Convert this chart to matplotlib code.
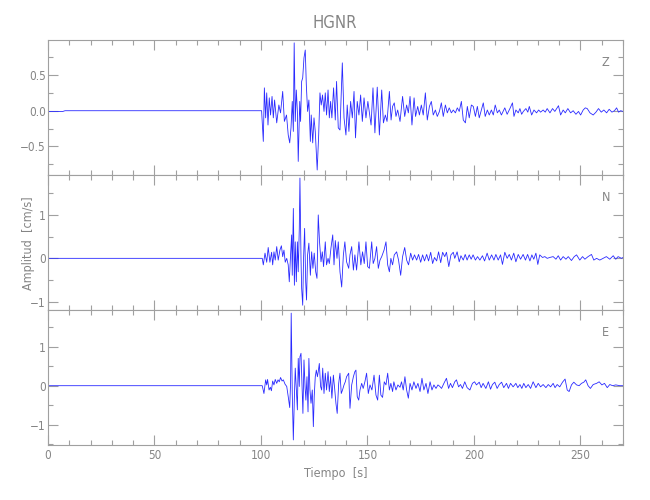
import matplotlib
matplotlib.use('Agg')
import matplotlib.pyplot as plt
from matplotlib import font_manager
from matplotlib.ticker import MultipleLocator

# Narrow, thin lettering closest to the plotting-package style
names = {f.name for f in font_manager.fontManager.ttflist}
narrow = [n for n in ['Liberation Sans Narrow', 'DejaVu Sans Condensed'] if n in names]
plt.rcParams['font.family'] = narrow + ['DejaVu Sans']
plt.rcParams['font.stretch'] = 'condensed'

# Turning points of the three components: (time s, cm/s)
z_trace = [
    (0, -0.01), (7, -0.01), (8, 0.0), (100.3, 0.0),
    (101.1, -0.43), (101.6, 0.32), (102.2, -0.10), (102.7, 0.25), (103.3, -0.20),
    (103.9, 0.18), (104.5, -0.06), (105.2, 0.20), (105.8, -0.10), (106.4, 0.15),
    (107.4, -0.17), (108.4, 0.08), (109.2, -0.03), (110.2, 0.27), (111.0, -0.15),
    (112.0, -0.06), (112.8, -0.34), (113.5, -0.45), (114.1, -0.24), (114.7, 0.13),
    (115.2, -0.29), (115.6, 0.95), (116.1, -0.15), (116.6, 0.29), (117.1, -0.01),
    (117.5, -0.71), (118.2, 0.13), (118.6, -0.15), (119.1, 0.41), (119.6, 0.46),
    (120.2, 0.74), (120.8, 0.85), (121.3, 0.36), (121.9, -0.01), (122.5, 0.15),
    (123.2, -0.43), (123.6, -0.06), (124.3, -0.45), (124.9, -0.10), (125.5, -0.29),
    (126.4, -0.83), (127.1, -0.34), (127.7, 0.25), (128.3, 0.08), (128.9, 0.22),
    (129.6, -0.01), (130.2, 0.25), (130.8, -0.06), (131.5, 0.29), (132.1, -0.10),
    (132.7, 0.13), (133.3, -0.10), (134.1, 0.32), (134.9, -0.13), (135.5, 0.41),
    (136.3, -0.24), (137.1, -0.27), (138.2, 0.67), (139.0, -0.10), (139.9, -0.34),
    (140.5, 0.08), (141.3, -0.29), (142.1, 0.13), (142.9, -0.10), (143.7, 0.27),
    (144.4, -0.38), (145.2, 0.13), (146.0, -0.06), (146.8, 0.22), (147.6, -0.15),
    (148.4, 0.18), (149.3, -0.10), (150.2, 0.13), (151.7, -0.20), (152.6, 0.32),
    (153.5, -0.31), (154.6, 0.33), (155.6, -0.34), (156.7, 0.29), (157.5, -0.17),
    (158.4, -0.06), (159.2, -0.15), (160.3, 0.27), (161.1, -0.13), (161.8, 0.06),
    (162.6, 0.11), (163.4, -0.08), (164.2, 0.01), (165.3, -0.15), (166.5, 0.20),
    (167.5, -0.08), (168.4, 0.08), (169.2, -0.03), (170.0, 0.20), (170.9, -0.20),
    (171.9, 0.18), (172.6, -0.08), (173.6, 0.06), (174.4, -0.06), (175.3, 0.08),
    (176.2, -0.06), (177.2, 0.25), (178.1, -0.13), (179.1, 0.06), (180.0, 0.13),
    (180.9, -0.06), (181.9, 0.01), (182.8, -0.08), (183.8, -0.01), (184.7, 0.11),
    (185.6, -0.08), (186.6, 0.08), (187.5, -0.03), (188.4, 0.04), (189.4, -0.03),
    (190.3, 0.01), (191.3, -0.03), (192.2, 0.04), (193.1, -0.01), (194.1, 0.13),
    (195.0, -0.13), (196.0, -0.17), (196.9, 0.06), (197.8, -0.10), (198.8, 0.08),
    (199.7, 0.06), (200.7, -0.08), (201.6, 0.06), (202.5, -0.10), (203.5, 0.01),
    (204.4, 0.11), (205.3, -0.08), (206.3, 0.01), (207.2, -0.06), (208.2, 0.01),
    (209.1, -0.06), (210.0, 0.08), (211.0, -0.03), (211.9, 0.01), (212.9, -0.06),
    (214.5, 0.04), (215.6, -0.05), (216.9, 0.03), (218.1, 0.11), (218.8, -0.08),
    (219.7, 0.01), (220.8, -0.03), (221.6, 0.03), (222.4, -0.05), (223.2, -0.01),
    (224.4, 0.03), (225.3, -0.02), (226.0, 0.06), (227.1, -0.06), (228.2, 0.01),
    (229.4, -0.03), (230.4, 0.01), (231.3, -0.02), (232.5, 0.01), (233.5, -0.02),
    (234.4, 0.03), (235.7, -0.03), (236.9, 0.03), (238.0, -0.01), (239.7, 0.07),
    (240.7, -0.06), (241.9, 0.01), (242.9, -0.03), (244.1, 0.03), (245.4, -0.03),
    (246.6, 0.0), (247.9, -0.05), (249.1, -0.01), (250.1, -0.06), (251.3, 0.01),
    (252.3, 0.04), (253.2, 0.03), (254.5, -0.03), (256.0, -0.06), (257.3, -0.02),
    (258.5, 0.03), (259.8, -0.02), (261.0, 0.01), (262.3, -0.03), (263.5, 0.02),
    (264.8, -0.02), (266.0, 0.0), (267.0, 0.04), (267.9, -0.02), (268.9, 0.0),
    (270.0, -0.01),
]

n_trace = [
    (0, 0.0), (100.6, 0.0),
    (101.1, -0.15), (101.9, 0.12), (102.7, -0.09), (103.4, 0.25), (104.2, -0.09),
    (105.0, 0.14), (105.5, -0.15), (106.1, 0.15), (106.7, -0.04), (107.4, 0.27),
    (108.1, -0.04), (108.9, 0.19), (109.6, 0.29), (110.2, 0.04), (110.8, 0.19),
    (111.4, -0.09), (112.1, 0.0), (112.8, -0.15), (113.3, -0.54), (113.9, 0.08),
    (114.4, 0.54), (114.7, -0.39), (115.2, 1.15), (115.7, -0.62), (116.1, 0.38),
    (116.6, -0.54), (117.1, 0.38), (117.5, -0.31), (118.0, 0.69), (118.3, 1.85),
    (118.8, 0.0), (119.1, -0.69), (119.6, -1.08), (120.0, 0.0), (120.5, 0.69),
    (121.0, -0.54), (121.4, -0.96), (121.9, 0.08), (122.5, 0.35), (123.2, -0.39),
    (123.8, 0.15), (124.4, -0.23), (125.0, 0.12), (125.7, -0.31), (126.3, -0.46),
    (126.9, 1.0), (127.5, 0.38), (128.2, -0.08), (128.8, 0.15), (129.4, -0.19),
    (130.2, 0.38), (130.8, -0.15), (131.5, 0.0), (132.1, -0.12), (132.9, 0.25),
    (133.7, 0.54), (134.3, -0.15), (134.9, 0.41), (135.7, 0.0), (136.3, 0.38),
    (137.1, -0.31), (137.9, -0.66), (138.7, 0.08), (139.4, 0.38), (140.2, -0.08),
    (141.2, -0.23), (141.8, 0.08), (142.6, 0.27), (143.4, -0.27), (144.1, 0.08),
    (144.9, -0.27), (146.0, 0.38), (146.9, -0.15), (147.7, 0.15), (148.5, -0.12),
    (149.3, 0.38), (150.1, -0.19), (150.9, -0.23), (152.0, 0.38), (152.7, -0.12),
    (153.5, 0.0), (154.3, 0.27), (155.1, -0.23), (155.9, -0.04), (156.7, 0.04),
    (157.8, 0.19), (158.7, 0.38), (159.5, -0.15), (160.3, -0.31), (161.0, 0.0),
    (161.8, -0.15), (162.6, 0.08), (163.7, 0.15), (164.6, -0.04), (165.6, -0.39),
    (166.5, 0.04), (167.5, 0.25), (168.4, -0.04), (169.3, -0.15), (170.3, 0.12),
    (171.2, -0.04), (172.1, 0.08), (173.1, -0.04), (174.0, 0.09), (175.0, -0.09),
    (175.9, 0.08), (176.8, -0.06), (177.8, 0.09), (178.7, -0.06), (179.7, 0.14),
    (180.6, -0.12), (181.5, 0.02), (182.5, -0.06), (183.4, 0.15), (184.4, -0.10),
    (185.3, 0.14), (186.3, 0.04), (187.1, 0.14), (188.2, -0.19), (189.2, 0.08),
    (190.3, 0.14), (191.0, 0.0), (192.1, 0.15), (193.1, -0.08), (193.9, 0.06),
    (195.0, -0.04), (195.9, 0.09), (196.8, -0.04), (197.8, 0.08), (198.7, -0.02),
    (199.6, 0.08), (200.7, -0.04), (201.7, 0.04), (202.8, -0.04), (204.0, 0.06),
    (205.0, -0.06), (206.2, 0.12), (207.2, -0.04), (208.3, 0.08), (209.4, -0.04),
    (210.3, 0.09), (211.4, -0.04), (212.5, 0.08), (213.4, -0.14), (214.5, 0.14),
    (215.6, 0.0), (216.6, 0.09), (217.6, -0.04), (218.7, 0.12), (219.7, -0.08),
    (220.8, 0.09), (221.9, -0.02), (223.1, 0.09), (224.2, -0.04), (225.2, 0.09),
    (226.3, -0.06), (227.2, 0.08), (228.1, -0.02), (229.1, 0.12), (230.0, -0.14),
    (230.9, 0.08), (232.2, 0.02), (233.3, 0.04), (234.4, 0.0), (235.6, 0.02),
    (237.2, 0.04), (238.5, -0.02), (239.6, 0.06), (240.7, -0.04), (241.9, 0.04),
    (243.2, -0.02), (244.3, 0.04), (245.8, -0.05), (247.1, 0.04), (248.2, 0.08),
    (249.7, -0.04), (251.0, 0.04), (252.1, -0.02), (253.6, 0.04), (255.2, 0.09),
    (256.3, -0.04), (257.6, 0.0), (259.1, -0.04), (260.7, 0.0), (262.2, 0.04),
    (263.8, -0.02), (265.4, 0.06), (266.6, -0.02), (267.7, 0.04), (269.3, 0.0),
    (270.0, 0.02),
]

e_trace = [
    (0, 0.0), (100.6, 0.0),
    (101.4, -0.20), (102.2, 0.15), (102.7, 0.02), (103.1, 0.16), (103.8, -0.11),
    (104.4, -0.04), (104.9, -0.13), (105.5, 0.12), (106.1, 0.02), (106.7, 0.16),
    (107.4, 0.06), (108.0, 0.15), (108.6, 0.10), (109.2, 0.21), (109.9, 0.12),
    (110.5, 0.15), (111.3, 0.04), (112.1, -0.02), (112.8, -0.28), (113.5, -0.56),
    (113.9, 0.06), (114.2, 1.86), (114.7, -0.20), (115.2, -1.39), (115.7, -0.28),
    (116.1, 0.45), (116.6, -0.11), (117.1, -0.62), (117.5, 0.70), (118.0, -0.02),
    (118.3, 0.74), (118.8, 0.83), (119.3, -0.02), (119.7, -0.71), (120.2, 0.66),
    (120.7, -0.02), (121.1, -0.37), (121.6, 0.23), (122.1, -0.67), (122.5, 0.70),
    (123.0, -0.11), (123.5, -0.45), (124.1, -0.11), (124.6, -1.05), (125.0, -0.28),
    (125.5, 0.23), (126.0, 0.40), (126.5, 0.23), (126.9, 0.36), (127.4, 0.57),
    (128.0, -0.02), (128.5, -0.11), (129.0, 0.45), (129.6, -0.20), (130.2, 0.32),
    (130.8, -0.11), (131.5, 0.36), (132.1, -0.15), (132.7, 0.23), (133.3, -0.32),
    (134.0, 0.27), (134.6, -0.07), (135.2, -0.45), (135.8, -0.71), (136.5, 0.06),
    (137.1, 0.32), (137.7, -0.20), (138.3, -0.11), (139.0, 0.02), (139.6, 0.10),
    (140.2, 0.23), (141.2, 0.32), (141.8, -0.58), (142.6, 0.02), (143.4, 0.23),
    (144.1, 0.36), (144.6, 0.40), (145.2, -0.28), (145.9, -0.37), (146.5, -0.11),
    (147.3, 0.06), (148.0, -0.07), (148.8, 0.10), (149.6, 0.32), (150.4, -0.20),
    (151.2, 0.02), (152.1, -0.11), (153.1, 0.27), (154.0, -0.24), (154.8, -0.37),
    (155.6, 0.27), (156.3, -0.24), (157.1, -0.30), (157.9, 0.10), (158.7, 0.02),
    (159.5, 0.32), (160.3, -0.11), (161.0, 0.06), (161.8, -0.15), (162.4, 0.10),
    (163.4, -0.11), (164.3, 0.02), (165.3, -0.04), (166.0, 0.10), (166.8, -0.11),
    (167.6, 0.23), (168.4, -0.11), (169.2, -0.32), (170.0, 0.06), (170.9, -0.11),
    (171.8, 0.10), (172.8, -0.07), (173.7, 0.06), (174.7, -0.15), (175.6, 0.19),
    (176.5, -0.11), (177.5, 0.06), (178.4, -0.20), (179.4, 0.10), (180.3, -0.11),
    (181.2, 0.02), (182.2, -0.07), (183.1, 0.02), (184.0, -0.02), (184.8, -0.07),
    (185.9, 0.06), (187.1, 0.19), (188.1, -0.07), (189.0, 0.06), (189.9, -0.05),
    (191.0, 0.10), (191.8, 0.15), (192.8, -0.03), (193.7, 0.03), (194.6, -0.07),
    (195.7, 0.10), (196.8, -0.05), (198.1, -0.11), (199.3, 0.06), (200.3, 0.10),
    (201.2, 0.02), (202.5, 0.09), (203.4, -0.05), (204.3, 0.06), (205.6, -0.07),
    (206.8, 0.10), (207.8, -0.09), (208.7, 0.03), (209.8, 0.09), (210.9, -0.07),
    (211.9, 0.03), (213.0, 0.09), (214.0, -0.05), (215.3, 0.06), (216.2, -0.07),
    (217.2, 0.06), (218.4, -0.03), (219.7, 0.06), (220.6, -0.05), (221.6, 0.03),
    (222.5, -0.07), (223.4, 0.06), (224.4, -0.05), (225.5, 0.03), (226.6, -0.07),
    (227.8, 0.10), (229.1, -0.05), (230.2, 0.06), (231.3, -0.03), (232.5, 0.03),
    (233.8, -0.05), (234.9, 0.03), (236.0, -0.03), (237.2, 0.06), (238.1, -0.05),
    (239.1, 0.03), (240.3, -0.03), (241.6, 0.09), (242.8, 0.17), (243.8, -0.11),
    (244.7, -0.15), (245.8, 0.02), (246.9, 0.09), (248.2, 0.02), (249.4, 0.0),
    (250.5, 0.06), (251.6, 0.09), (252.5, 0.15), (253.6, 0.0), (254.7, -0.07),
    (256.0, 0.03), (257.6, 0.06), (258.8, 0.10), (260.1, 0.02), (261.3, 0.06),
    (262.6, -0.05), (263.8, 0.03), (265.1, 0.0), (266.6, 0.02), (268.5, 0.0),
    (270.0, 0.0),
]

components = ['Z', 'N', 'E']
y_limits = [(-0.90, 0.99), (-1.19, 1.92), (-1.52, 1.94)]
y_major = [0.5, 1.0, 1.0]
x_limits = (0, 270)

gray = '#a0a0a0'
text_gray = '#858585'
blue = '#2a2aff'

fig, axes = plt.subplots(3, 1, figsize=(6.5, 5), dpi=100, sharex=True)
fig.subplots_adjust(left=48 / 650, right=623 / 650, top=1 - 40 / 500,
                    bottom=1 - 445 / 500, hspace=0)

for ax, trace, comp, ylim, step in zip(axes, [z_trace, n_trace, e_trace],
                                       components, y_limits, y_major):
    t = [p[0] for p in trace]
    v = [p[1] for p in trace]
    ax.plot(t, v, color=blue, linewidth=0.6)
    ax.set_xlim(*x_limits)
    ax.set_ylim(*ylim)
    ax.yaxis.set_major_locator(MultipleLocator(step))
    ax.yaxis.set_minor_locator(MultipleLocator(step / 2))
    ax.xaxis.set_major_locator(MultipleLocator(50))
    ax.xaxis.set_minor_locator(MultipleLocator(10))
    ax.tick_params(which='both', direction='in', top=True, right=True,
                   color=gray, labelcolor=text_gray, labelsize=8.5, width=0.8)
    ax.tick_params(which='major', length=7)
    ax.tick_params(which='minor', length=3.5)
    ax.tick_params(axis='y', pad=1.5)
    for s in ax.spines.values():
        s.set_color(gray)
        s.set_linewidth(0.8)
    ax.text(0.970, 0.837, comp, transform=ax.transAxes, ha='center',
            va='center', color=text_gray, fontsize=9)

axes[0].yaxis.set_major_formatter(lambda x, pos: f'{x:.1f}'.replace('-', '\u2212'))
axes[1].yaxis.set_major_formatter(lambda x, pos: f'{x:.0f}'.replace('-', '\u2212'))
axes[2].yaxis.set_major_formatter(lambda x, pos: f'{x:.0f}'.replace('-', '\u2212'))
axes[2].tick_params(axis='x', pad=3)

fig.text(335 / 650, 1 - 23 / 500, 'HGNR', ha='center', va='center',
         color=text_gray, fontsize=12)
fig.text(29 / 650, 1 - 243 / 500, 'Amplitud  [cm/s]', ha='center', va='center',
         rotation=90, color=text_gray, fontsize=9)
fig.text(336 / 650, 1 - 474 / 500, 'Tiempo  [s]', ha='center', va='center',
         color=text_gray, fontsize=9)

fig.savefig('out.png', dpi=100)
